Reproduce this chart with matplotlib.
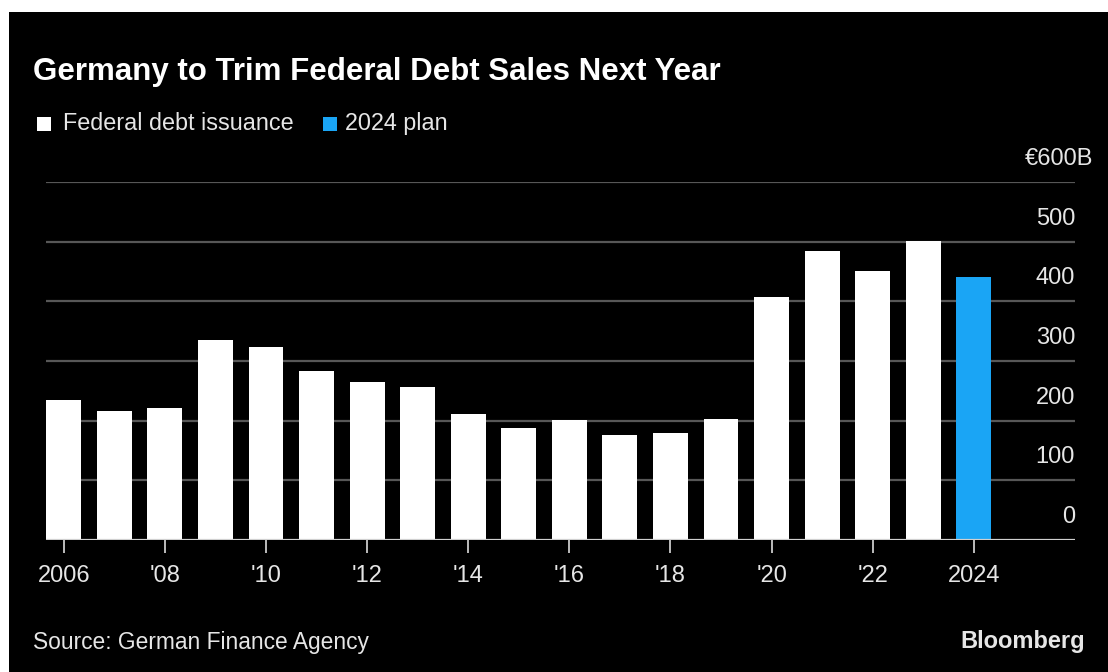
import matplotlib.pyplot as plt
from matplotlib.patches import Rectangle
import matplotlib.transforms as mtransforms

years = list(range(2006, 2025))
issuance = [235, 216, 221, 335, 324, 283, 264, 257, 212, 187, 201, 176, 180, 203,
            407, 484, 450, 501, 441]
plan_year = 2024
tick_years = [2006, 2008, 2010, 2012, 2014, 2016, 2018, 2020, 2022, 2024]
tick_labels = ['2006', "'08", "'10", "'12", "'14", "'16", "'18", "'20", "'22", '2024']
y_ticks = [0, 100, 200, 300, 400, 500, 600]
y_labels = ['0', '100', '200', '300', '400', '500', '€600B']

W, H = 1108, 672
BLUE = '#1AA5F5'
TXT = '#e6e6e6'
plt.rcParams['font.family'] = 'Liberation Sans'


def fx(px):
    return px / W


def fy(py):
    return 1 - py / H


fig = plt.figure(figsize=(W / 100, H / 100), dpi=100, facecolor='black')
# white strip along the top and left edges
fig.patches.append(Rectangle((0, fy(12)), 1, 1, transform=fig.transFigure,
                             facecolor='white', edgecolor='none'))
fig.patches.append(Rectangle((0, 0), fx(9), 1, transform=fig.transFigure,
                             facecolor='white', edgecolor='none'))

ax = fig.add_axes([fx(46), fy(540), fx(1075) - fx(46), fy(182) - fy(540)])
ax.set_facecolor('none')

colors = [BLUE if y == plan_year else 'white' for y in years]
ax.bar(years, issuance, width=0.69, color=colors, zorder=3)

ax.set_xlim(2005.65, 2026.0)
ax.set_ylim(0, 600)

for v in y_ticks[1:]:
    ax.axhline(v, color='#575757', lw=1.6, zorder=1)
ax.axhline(0, color='#d0d0d0', lw=1.6, zorder=4)

# y labels sit just above their gridlines at the right end
for v, lab in zip(y_ticks, y_labels):
    xo = 18 if lab.endswith('B') else 0
    t = mtransforms.offset_copy(ax.get_yaxis_transform(), fig=fig, x=xo, y=12, units='dots')
    ax.text(1.0, v, lab, transform=t, ha='right', va='bottom', color=TXT, fontsize=17)

ax.set_yticks([])
ax.set_xticks(tick_years)
ax.set_xticklabels(tick_labels, fontsize=17, color=TXT)
ax.tick_params(axis='x', length=9, width=1.4, color='#bdbdbd', pad=9)
for s in ax.spines.values():
    s.set_visible(False)

fig.text(fx(33), fy(80), 'Germany to Trim Federal Debt Sales Next Year', color='white',
         fontsize=22.5, fontweight='bold', ha='left', va='baseline')

# legend
fig.patches.append(Rectangle((fx(37), fy(131)), fx(14), fy(117) - fy(131),
                             transform=fig.transFigure, facecolor='white', edgecolor='none'))
fig.text(fx(63), fy(130), 'Federal debt issuance', color=TXT, fontsize=16.8,
         ha='left', va='baseline')
fig.patches.append(Rectangle((fx(323), fy(131)), fx(14), fy(117) - fy(131),
                             transform=fig.transFigure, facecolor=BLUE, edgecolor='none'))
fig.text(fx(345), fy(130), '2024 plan', color=TXT, fontsize=16.8,
         ha='left', va='baseline')

fig.text(fx(33), fy(649), 'Source: German Finance Agency', color=TXT, fontsize=16.4,
         ha='left', va='baseline')
fig.text(fx(1085), fy(648), 'Bloomberg', color=TXT, fontsize=17,
         fontweight='bold', ha='right', va='baseline')

fig.savefig('out.png', dpi=100, facecolor='black')
